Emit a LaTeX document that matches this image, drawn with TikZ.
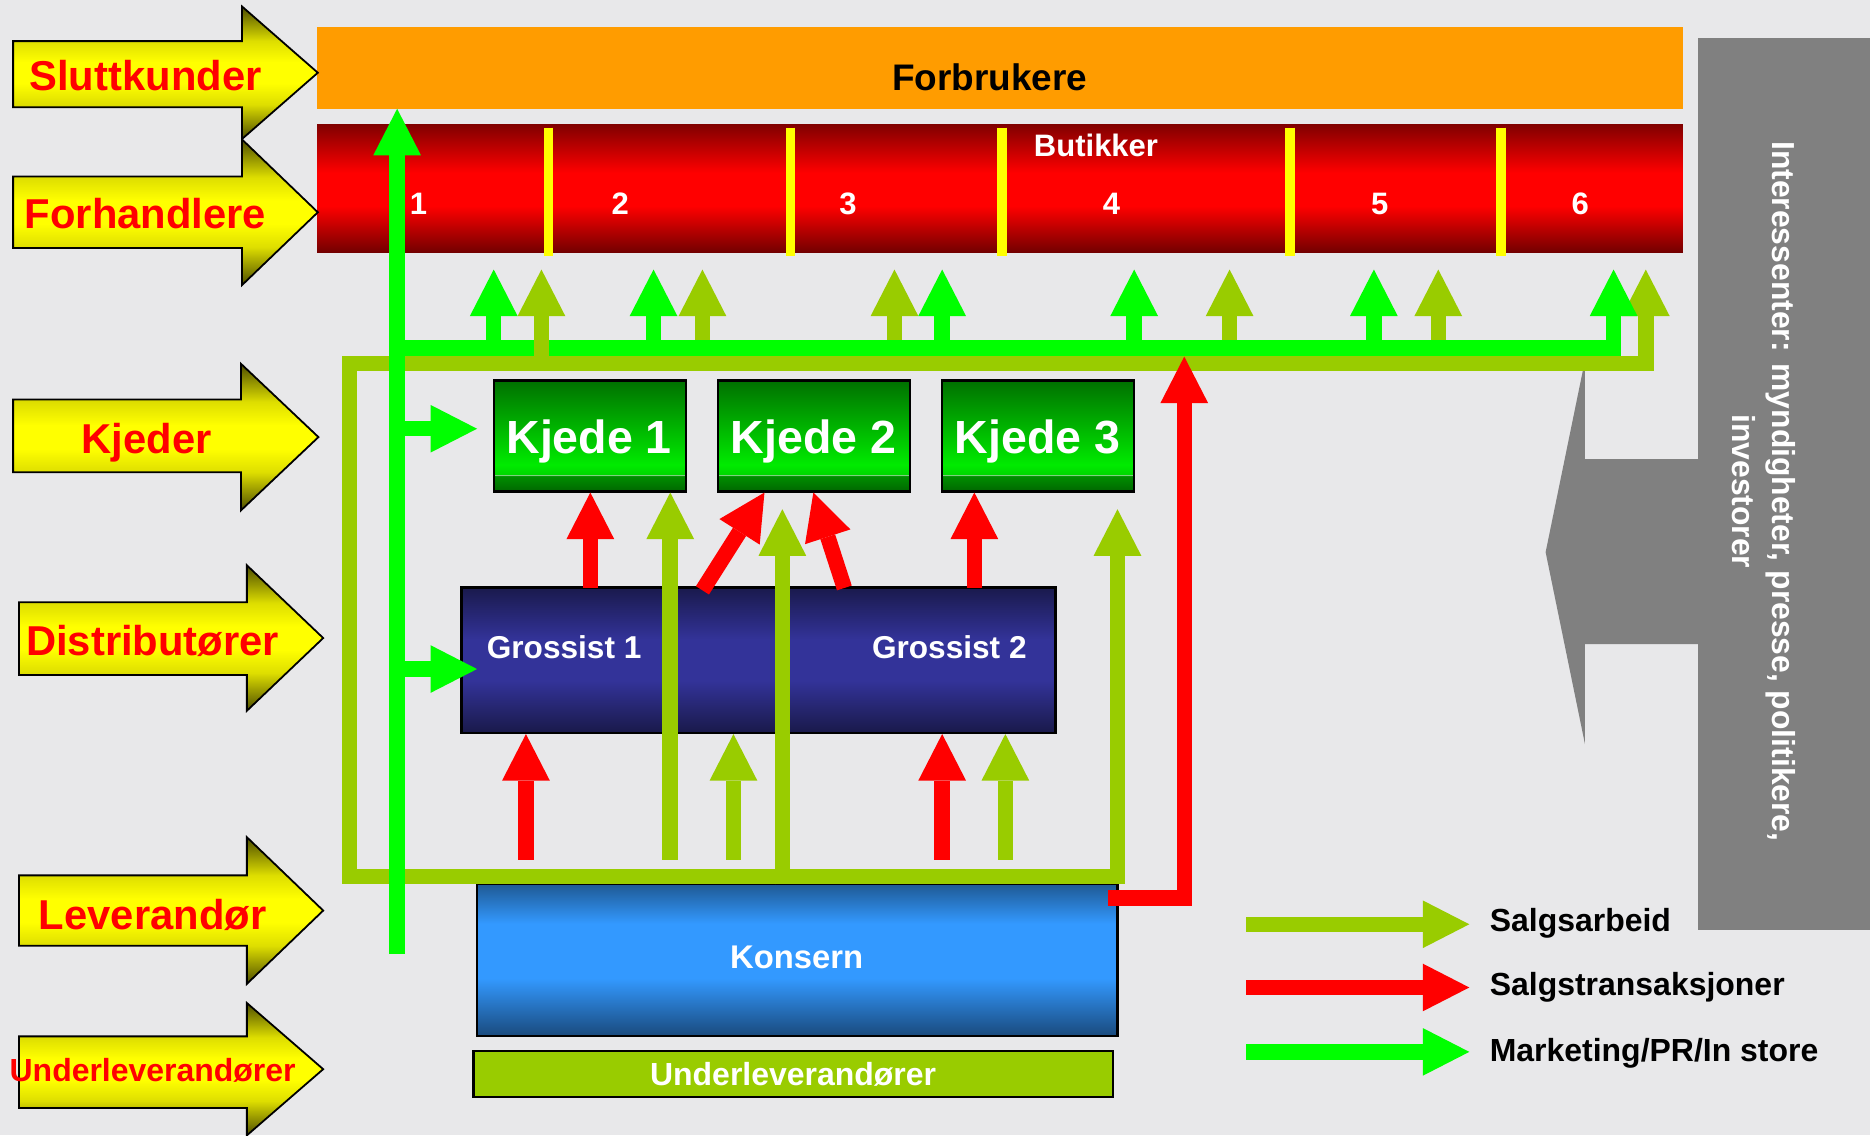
\documentclass[tikz,border=0pt]{standalone}
\usepackage{fontspec}
\setmainfont{Liberation Sans}
\usetikzlibrary{arrows.meta}
\definecolor{bgc}{HTML}{E8E8EA}
\definecolor{salg}{HTML}{99CC00}
\definecolor{mktg}{HTML}{00FF00}
\definecolor{trans}{HTML}{FF0000}
\definecolor{orng}{HTML}{FF9C00}
\definecolor{panelc}{HTML}{808080}
\definecolor{divc}{HTML}{FFFF00}
\pgfdeclareverticalshading{yelshade}{100bp}{rgb(0bp)=(0.3,0.3,0); rgb(25bp)=(0.3,0.3,0); rgb(38bp)=(0.87,0.87,0); rgb(46bp)=(1,1,0); rgb(54bp)=(1,1,0); rgb(62bp)=(0.87,0.87,0); rgb(75bp)=(0.3,0.3,0); rgb(100bp)=(0.3,0.3,0)}
\pgfdeclareverticalshading{redshade}{100bp}{rgb(0bp)=(0.45,0,0); rgb(25bp)=(0.45,0,0); rgb(43bp)=(1,0,0); rgb(56bp)=(1,0,0); rgb(75bp)=(0.5,0,0); rgb(100bp)=(0.5,0,0)}
\pgfdeclareverticalshading{kjedeshade}{100bp}{rgb(0bp)=(0,0.4,0); rgb(25bp)=(0,0.4,0); rgb(27bp)=(0,0.45,0); rgb(32bp)=(0,0.56,0); rgb(32.3bp)=(0.6,0.82,0.6); rgb(32.8bp)=(0,0.85,0); rgb(37bp)=(0,0.92,0); rgb(75bp)=(0,0.44,0); rgb(100bp)=(0,0.44,0)}
\pgfdeclareverticalshading{grshade}{100bp}{rgb(0bp)=(0.1,0.1,0.29); rgb(25bp)=(0.1,0.1,0.29); rgb(43bp)=(0.2,0.2,0.6); rgb(57bp)=(0.2,0.2,0.6); rgb(75bp)=(0.1,0.1,0.3); rgb(100bp)=(0.1,0.1,0.3)}
\pgfdeclareverticalshading{konshade}{100bp}{rgb(0bp)=(0.1,0.29,0.49); rgb(25bp)=(0.1,0.29,0.49); rgb(44bp)=(0.2,0.6,1); rgb(62bp)=(0.2,0.6,1); rgb(75bp)=(0.12,0.35,0.58); rgb(100bp)=(0.12,0.35,0.58)}
\newcommand\myfs[1]{\fontsize{#1}{#1}\selectfont\bfseries}
\newcommand\yarrow[7]{%
  \path[draw=black,line width=1.5pt,shading=yelshade,line join=miter]
    (#1,#2) -- (#4,#2) -- (#4,#5) -- (#7,{(#5+#6)/2}) -- (#4,#6) -- (#4,#3) -- (#1,#3) -- cycle;}
\begin{document}
\begin{tikzpicture}[x=1pt,y=-1pt,
  flow/.style={line width=13pt,line join=miter,-{Triangle[length=39pt,width=40pt,line width=0pt 0 0]}},
  sflow/.style={flow,draw=salg},
  tflow/.style={flow,draw=trans},
  mflow/.style={flow,draw=mktg},
  lab/.style={font=\myfs{35},text=red,anchor=base},
  wlab/.style={font=\myfs{26.5},text=white,anchor=base},
  kjede/.style={shading=kjedeshade,draw=black,line width=2pt,minimum width=161pt,minimum height=93pt,inner sep=0pt},
  divider/.style={draw=divc,line width=8pt}
]
\useasboundingbox (0,0) rectangle (1568,952);
\fill[bgc] (0,0) rectangle (1568,952);

% stakeholder panel
\fill[panelc] (1424,32) rectangle (1568,780);
\fill[panelc] (1425,385) -- (1329,385) -- (1329,302) -- (1296,463) -- (1329,624) -- (1329,540) -- (1425,540) -- cycle;
\node[font=\fontsize{26.7}{33}\selectfont\bfseries,text=white,rotate=-90,align=center] (intr) at (1479,412)
  {Interessenter: myndigheter, presse, politikere,\\investorer};

% top bars
\node[fill=orng,minimum width=1145pt,minimum height=68pt,inner sep=0pt] (forb) at (838.5,57) {};
\node[font=\myfs{31},anchor=base] (forbt) at (830,76) {Forbrukere};
\node[shading=redshade,minimum width=1145pt,minimum height=107.5pt,inner sep=0pt] (butikk) at (838.5,157.75) {};
\foreach \x in {460,663,840,1081.5,1258.5} {\draw[divider] (\x,107) -- (\x,215);}
\node[wlab,font=\myfs{26}] (butt) at (919,131) {Butikker};
\foreach \x/\n in {351/1,520/2,711/3,932/4,1157/5,1325/6} {\node[wlab,font=\myfs{26}] (num\n) at (\x,180) {\n};}

% level arrows
\yarrow{11}{34.5}{90}{203}{5.5}{116.5}{266.5}
\yarrow{11}{148}{208}{203}{117}{239}{266.5}
\yarrow{11}{335}{396}{202}{305}{428}{267}
\yarrow{16}{505}{566}{207}{474}{596}{271}
\yarrow{16}{734}{793}{207}{702}{825}{271}
\yarrow{16}{869}{929}{207}{841}{952}{271}
\node[lab] (l1) at (122,76) {Sluttkunder};
\node[lab] (l2) at (122,192) {Forhandlere};
\node[lab] (l3) at (123,380) {Kjeder};
\node[lab] (l4) at (128,550) {Distributører};
\node[lab] (l5) at (128,779) {Leverandør};
\node[lab,font=\myfs{26.8}] (l6) at (128,907) {Underleverandører};

% boxes
\node[kjede] (k1) at (494.5,365.5) {};
\node[kjede] (k2) at (682.5,365.5) {};
\node[kjede] (k3) at (870.5,365.5) {};
\node[font=\myfs{39},text=white,anchor=base] (k1t) at (494,380) {Kjede 1};
\node[font=\myfs{39},text=white,anchor=base] (k2t) at (682,380) {Kjede 2};
\node[font=\myfs{39},text=white,anchor=base] (k3t) at (870,380) {Kjede 3};
\node[shading=grshade,draw=black,line width=2pt,minimum width=498pt,minimum height=122pt,inner sep=0pt] (gr) at (636,553.5) {};
\node[wlab] (g1) at (473,552) {Grossist 1};
\node[wlab] (g2) at (796,552) {Grossist 2};
\node[shading=konshade,draw=black,line width=2pt,minimum width=537pt,minimum height=127.5pt,inner sep=0pt] (kons) at (668.5,805) {};
\node[wlab,font=\myfs{27.5}] (konst) at (668,812) {Konsern};
\node[fill=salg,draw=black,line width=2pt,minimum width=536pt,minimum height=39pt,inner sep=0pt] (ulev) at (665,900.5) {};
\node[wlab,font=\myfs{26.8}] (ulevt) at (665,910) {Underleverandører};

% Salgsarbeid loop
\coordinate (oa) at (937,735);
\coordinate (ob) at (293,735);
\coordinate (oc) at (293,305);
\coordinate (od) at (1380,305);
\coordinate (oe) at (1380,226);
\draw[sflow] (oa) -- (ob) -- (oc) -- (od) -- (oe);
\foreach \x [count=\i] in {589,750,1031,1206} {
  \coordinate (os\i) at (\x,305); \coordinate (ot\i) at (\x,226);
  \draw[sflow] (os\i) -- (ot\i);}
\coordinate (ora) at (937,741.5);
\coordinate (orb) at (937,427);
\draw[sflow] (ora) -- (orb);
\coordinate (oi1) at (562,721);
\draw[sflow] (oi1) -- (oi1 |- k1.south);
\coordinate (oi2) at (656,741.5);
\coordinate (oi2t) at (656,427);
\draw[sflow] (oi2) -- (oi2t);
\coordinate (oi3) at (615,721);
\draw[sflow] (oi3) -- (oi3 |- gr.south);
\coordinate (oi4) at (843,721);
\draw[sflow] (oi4) -- (oi4 |- gr.south);

% Marketing
\coordinate (gh0) at (333,292);
\coordinate (gh1) at (1353,292);
\coordinate (gh2) at (1353,226);
\draw[mflow] (gh0) -- (gh1) -- (gh2);
\foreach \x [count=\i] in {414,548,790,951,1152} {
  \coordinate (gs\i) at (\x,292); \coordinate (gt\i) at (\x,226);
  \draw[mflow] (gs\i) -- (gt\i);}
\coordinate (os0) at (454,305);
\coordinate (ot0) at (454,226);
\draw[sflow] (os0) -- (ot0);
\coordinate (gbot) at (333,800);
\draw[mflow] (gbot) -- (gbot |- forb.south);
\coordinate (gk0) at (333,359.5);
\coordinate (gk1) at (400,359.5);
\draw[mflow] (gk0) -- (gk1);
\coordinate (gg0) at (333,561);
\coordinate (gg1) at (400,561);
\draw[mflow] (gg0) -- (gg1);

% Salgstransaksjoner
\coordinate (ri1) at (441,721);
\draw[tflow] (ri1) -- (ri1 |- gr.south);
\coordinate (ri2) at (790,721);
\draw[tflow] (ri2) -- (ri2 |- gr.south);
\coordinate (rk1) at (495,493);
\draw[tflow] (rk1) -- (rk1 |- k1.south);
\coordinate (rk3) at (817,493);
\draw[tflow] (rk3) -- (rk3 |- k3.south);
\coordinate (rd1) at (589,495);
\coordinate (rd1t) at (641,413);
\draw[tflow] (rd1) -- (rd1t);
\coordinate (rd2) at (708,493);
\coordinate (rd2t) at (682,413);
\draw[tflow] (rd2) -- (rd2t);
\coordinate (rb0) at (929,753);
\coordinate (rb1) at (993,753);
\coordinate (rb2) at (993,299);
\draw[tflow] (rb0) -- (rb1) -- (rb2);

% legend
\coordinate (lg1a) at (1045,775); \coordinate (lg1b) at (1232,775);
\coordinate (lg2a) at (1045,828); \coordinate (lg2b) at (1232,828);
\coordinate (lg3a) at (1045,882); \coordinate (lg3b) at (1232,882);
\draw[sflow] (lg1a) -- (lg1b);
\draw[tflow] (lg2a) -- (lg2b);
\draw[mflow] (lg3a) -- (lg3b);
\node[font=\myfs{26.8},anchor=base west,inner sep=0pt] (lt1) at (1249,781) {Salgsarbeid};
\node[font=\myfs{26.8},anchor=base west,inner sep=0pt] (lt2) at (1249,835) {Salgstransaksjoner};
\node[font=\myfs{26.8},anchor=base west,inner sep=0pt] (lt3) at (1249,890) {Marketing/PR/In store};
\end{tikzpicture}
\end{document}
